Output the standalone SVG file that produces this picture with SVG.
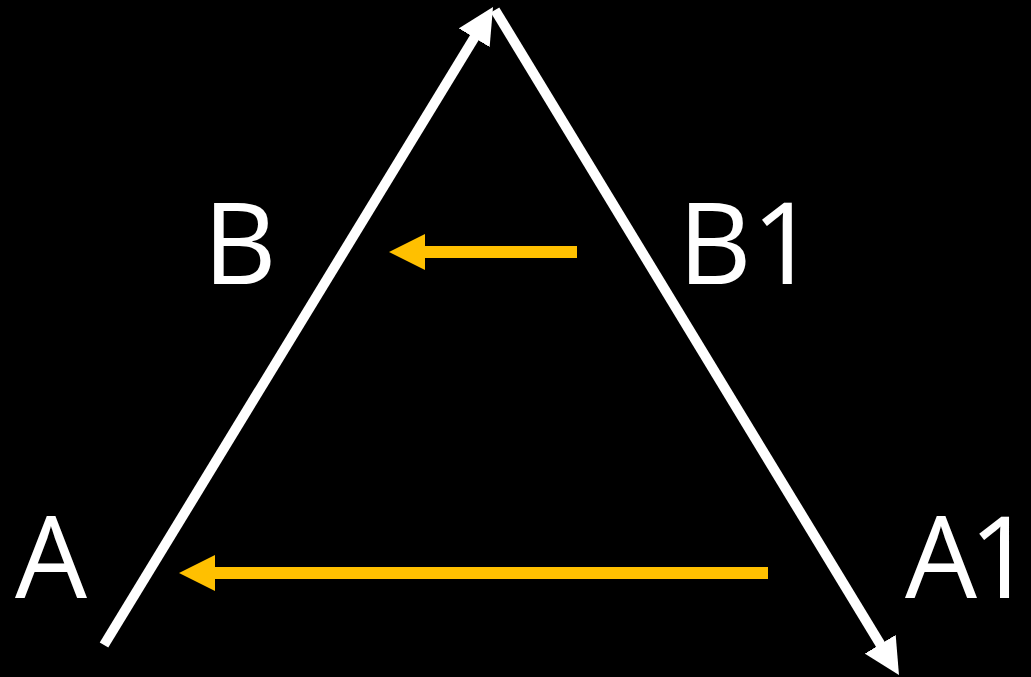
<svg xmlns="http://www.w3.org/2000/svg" width="1031" height="677" viewBox="0 0 1031 677">
<style>
.w{stroke:#fff;stroke-width:10;fill:none;marker-end:url(#hw)}
.o{stroke:#FFC000;stroke-width:12;fill:none;marker-end:url(#ho)}
.t{font-family:"Open Sans","Liberation Sans",sans-serif;font-size:114px;fill:#fff}
</style>
<defs>
<marker id="hw" viewBox="0 0 36 36" markerWidth="36" markerHeight="36" refX="16" refY="18" orient="auto" markerUnits="userSpaceOnUse"><path d="M0,0 L36,18 L0,36 z" fill="#fff"/></marker>
<marker id="ho" viewBox="0 0 36 36" markerWidth="36" markerHeight="36" refX="16" refY="18" orient="auto" markerUnits="userSpaceOnUse"><path d="M0,0 L36,18 L0,36 z" fill="#FFC000"/></marker>
</defs>
<rect width="1031" height="677" fill="#000"/>
<g id="connectors">
<line class="w" x1="104" y1="645" x2="482.6" y2="24.1"/>
<line class="w" x1="495" y1="10" x2="888.6" y2="657.9"/>
<line class="o" x1="577" y1="252" x2="409" y2="252"/>
<line class="o" x1="768" y1="573" x2="199" y2="573"/>
</g>
<g id="A"><text class="t" x="15" y="598">A</text></g>
<g id="A1"><text class="t" x="905" y="598" letter-spacing="-8">A1</text></g>
<g id="B"><text class="t" x="203" y="284">B</text></g>
<g id="B1"><text class="t" x="678" y="284">B1</text></g>
</svg>
